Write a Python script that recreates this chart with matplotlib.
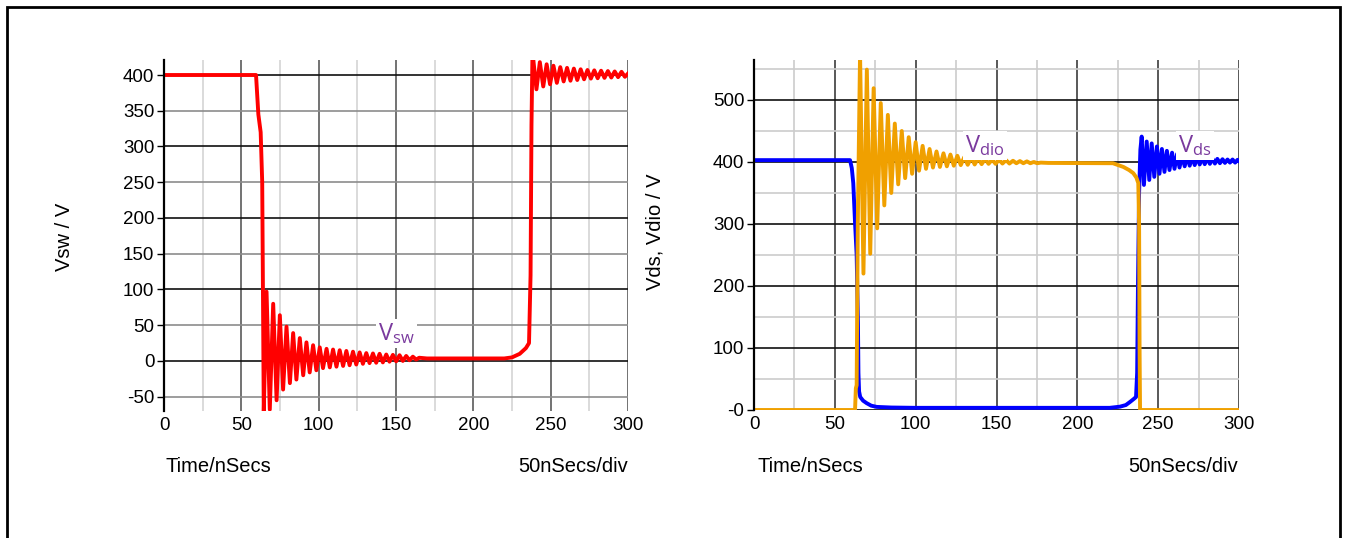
import numpy as np
import matplotlib.pyplot as plt
from matplotlib.patches import Rectangle
from matplotlib.ticker import MultipleLocator

plt.rcParams['axes.unicode_minus'] = False

# switch-node voltage (left panel), vertices in ns / V
vsw_t = [0, 59.5, 61.0, 62.5, 63.5, 64.5,
         66.3, 68.4, 70.6, 72.8, 74.9, 77.0, 79.2, 81.4, 83.5, 85.6,
         87.8, 90.0, 92.1, 94.2, 96.4, 98.5, 100.7, 102.8, 105.1, 107.2,
         109.3, 111.5, 113.6, 115.8, 117.9, 120.0, 122.2, 124.3, 126.5, 128.6,
         130.8, 132.9, 135.1, 137.2, 139.4, 141.5, 143.7, 145.8, 148.0, 150.1,
         152.3, 154.4, 156.6, 158.7, 160.9, 163.0, 165.0,
         170, 200, 220, 225, 230, 234, 236.0, 237.0, 237.6, 238.2, 238.6,
         240.8, 243.0, 245.2, 247.4, 249.6, 251.8, 254.0, 256.2, 258.4, 260.6,
         262.8, 265.0, 267.2, 269.4, 271.6, 273.8, 276.0, 278.2, 280.4, 282.6,
         284.8, 287.0, 289.2, 291.4, 293.6, 295.8, 298.0, 300]
vsw_v = [400, 400, 345, 320, 250, -71,
         97, -68, 80, -55, 64, -40, 48, -31, 39, -26,
         32, -20, 26, -16, 22, -13, 19, -10, 17, -9,
         16, -8, 15, -7, 14, -6, 13, -5, 12, -4,
         11, -3, 10.5, -2.5, 10, -2, 9, -1, 8.5, -0.5,
         8, 0, 7, 1, 6, 2, 4.5,
         3.5, 3.5, 3.5, 5, 10, 18, 25, 120, 330, 425, 425,
         380, 418, 384, 415, 387, 413, 389, 411, 391, 410,
         392, 409, 393, 408, 394, 407, 395, 406.5, 395.5, 406,
         396, 405.5, 396.5, 405, 397, 404.5, 397.5, 402]

# MOSFET drain-source voltage (right panel, blue)
vds_t = [0, 59.4, 60.5, 61.4, 62.5, 63.5, 64.3, 64.6, 65.0, 65.7, 67.5,
         69.7, 72.5, 75.9, 85, 100, 150, 220, 226.4, 230, 232.6, 235, 236.3,
         237.0, 237.5, 238.2, 239.0,
         239.8, 241.2, 242.9, 244.5, 246.0, 247.6, 249.2, 250.8, 252.3, 253.9,
         255.4, 257.0, 258.6, 260.1, 261.7, 263.2, 264.8, 266.4, 267.9, 269.5,
         271.0, 272.6, 274.2, 275.7, 277.3, 278.8, 280.4, 282.0, 283.5, 285.1,
         286.6, 288.2, 289.8, 291.3, 292.9, 294.4, 296.0, 297.6, 299.1, 300]
vds_v = [403, 403, 390, 366, 302, 250, 140, 60, 30, 21, 15,
         11, 7, 5, 4, 3.5, 3.5, 3.5, 5.4, 8, 13, 18, 21,
         60, 200, 350, 420,
         441, 363, 433, 371, 430, 376, 425, 381, 421, 384,
         418, 387, 415, 389, 413, 391, 411, 393, 410, 394,
         409, 395, 408, 396, 407, 396.5, 406, 397, 405.5, 397.5,
         405, 398, 404.5, 398.5, 404, 399, 404, 399, 403.5, 401.5]

# freewheeling diode voltage (right panel, orange)
vdio_t = [0, 62.5, 63.0, 63.5, 64.2,
          65.6, 67.7, 69.8, 71.9, 74.0, 76.2, 78.4, 80.6, 82.8, 84.9,
          87.1, 89.2, 91.4, 93.5, 95.7, 97.8, 100.0, 102.1, 104.3, 106.4,
          108.6, 110.7, 112.9, 115.0, 117.2, 119.3, 121.5, 123.6, 125.8, 127.9,
          130.1, 132.2, 134.4, 136.5, 138.7, 140.8, 143.0, 145.1, 147.3, 149.4,
          151.6, 153.7, 155.9, 158.0, 160.2, 162.3, 164.5, 166.6, 168.8, 170.9,
          173.1, 175.2, 177.4, 182,
          222, 228.5, 232, 234.6, 236.5, 237.7, 238.2, 238.5, 238.8, 300]
vdio_v = [0, 0, 35, 40, 300,
          575, 220, 549, 252, 519, 293, 495, 330, 476, 350,
          462, 364, 450, 374, 440, 381, 432, 386, 426, 389,
          421, 391, 417, 392, 414, 393, 412, 394, 410, 395,
          408, 395.5, 407, 396, 406, 396.5, 405, 397, 404, 397,
          403.5, 397.5, 403, 397.5, 402, 398, 401.5, 398, 401, 398,
          400, 398, 399, 398.5,
          398, 392, 387, 382, 375, 366, 300, 100, 0, 0]

W, H = 1347, 538
fig = plt.figure(figsize=(W / 100, H / 100), dpi=100)
fig.patch.set_facecolor('white')

tick_font = dict(family='Liberation Sans', size=13.5)
label_font = dict(family='Liberation Sans', size=14.5)
purple = '#7a3a9e'
lw = 2.8


def px_axes(x0, x1, top, bottom):
    return fig.add_axes([x0 / W, 1 - bottom / H, (x1 - x0) / W, (bottom - top) / H])


def style_axes(ax):
    for side in ('top', 'right', 'bottom'):
        ax.spines[side].set_visible(False)
    ax.spines['left'].set_linewidth(1.6)
    ax.set_xlim(0, 300)
    ax.xaxis.set_major_locator(MultipleLocator(50))
    ax.xaxis.set_minor_locator(MultipleLocator(25))
    ax.tick_params(axis='x', which='both', length=0, pad=4)
    ax.tick_params(axis='y', which='major', length=5, width=1, pad=2)
    ax.tick_params(axis='y', which='minor', length=0)
    for lab in ax.get_xticklabels() + ax.get_yticklabels():
        lab.set_fontfamily(tick_font['family'])
        lab.set_fontsize(tick_font['size'])
    ax.set_axisbelow(True)


def tag(ax, x, y, sub):
    ax.text(x, y, r'$\mathregular{V_{%s}}$' % sub, color=purple, fontsize=17,
            family='Open Sans', ha='center', va='center',
            bbox=dict(facecolor='white', edgecolor='none', pad=1.5))


# ---- left panel: Vsw ----
ax1 = px_axes(164, 628, 60, 411)
ax1.set_ylim(-70, 421)
ax1.yaxis.set_major_locator(MultipleLocator(50))
style_axes(ax1)
ax1.grid(True, axis='x', which='major', color='#5a5a5a', lw=1.2)
ax1.grid(True, axis='x', which='minor', color='#d4d4d4', lw=1.2)
ax1.grid(True, axis='y', which='major', lw=1.2)
for gl, val in zip(ax1.get_ygridlines(), ax1.get_yticks()):
    gl.set_color('#111111' if val % 100 == 0 else '#8c8c8c')
ax1.plot(vsw_t, vsw_v, color='#ff0000', lw=lw)
tag(ax1, 150.5, 38, 'sw')

# ---- right panel: Vds and Vdio ----
ax2 = px_axes(754, 1239, 60, 410)
ax2.yaxis.set_major_locator(MultipleLocator(100))
ax2.yaxis.set_minor_locator(MultipleLocator(50))
ax2.set_ylim(0, 564.5)
style_axes(ax2)
yt = np.arange(0, 501, 100)
ax2.set_yticks(yt)
ax2.set_yticklabels(['-0' if v == 0 else str(v) for v in yt], **tick_font)
ax2.set_ylim(0, 564.5)
ax2.grid(True, axis='x', which='major', color='#3c3c3c', lw=1.2)
ax2.grid(True, axis='x', which='minor', color='#cccccc', lw=1.2)
ax2.grid(True, axis='y', which='major', color='#111111', lw=1.2)
ax2.grid(True, axis='y', which='minor', color='#cccccc', lw=1.2)
ax2.plot(vds_t, vds_v, color='#0000ff', lw=lw)
ax2.plot(vdio_t, vdio_v, color='#f0a000', lw=lw)
tag(ax2, 143, 427, 'dio')
tag(ax2, 272.8, 427, 'ds')

# axis captions
fig.text(166 / W, 1 - 467 / H, 'Time/nSecs', ha='left', va='center', **label_font)
fig.text(628 / W, 1 - 467 / H, '50nSecs/div', ha='right', va='center', **label_font)
fig.text(757 / W, 1 - 467 / H, 'Time/nSecs', ha='left', va='center', **label_font)
fig.text(1238 / W, 1 - 467 / H, '50nSecs/div', ha='right', va='center', **label_font)
fig.text(65 / W, 1 - 237 / H, 'Vsw / V', rotation=90, ha='center', va='center', **label_font)
fig.text(655 / W, 1 - 232 / H, 'Vds, Vdio / V', rotation=90, ha='center', va='center', **label_font)

# outer frame
fig.add_artist(Rectangle((7 / W, -0.1), (1340 - 7) / W, 1.1 - 7 / H,
                         transform=fig.transFigure, fill=False, lw=2, color='black'))

fig.savefig('out.png', dpi=100)
